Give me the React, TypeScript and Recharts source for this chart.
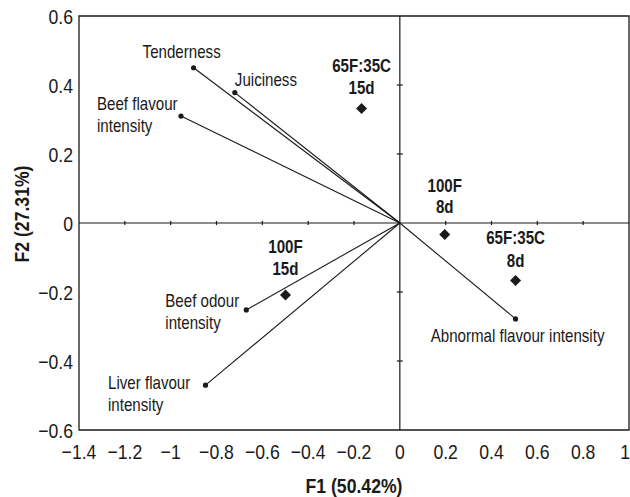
import React from "react";
import { ScatterChart, Scatter, XAxis, YAxis, ReferenceLine, ReferenceArea, Label } from "recharts";

// sensory attributes (vectors) on F1/F2
const attributes = [
  "Tenderness",
  "Juiciness",
  "Beef flavour intensity",
  "Beef odour intensity",
  "Liver flavour intensity",
  "Abnormal flavour intensity",
];
const attrF1 = [-0.9, -0.72, -0.955, -0.67, -0.848, 0.505];
const attrF2 = [0.45, 0.378, 0.31, -0.252, -0.47, -0.278];

// treatments (diamonds)
const samples = ["65F:35C 15d", "100F 8d", "65F:35C 8d", "100F 15d"];
const sampleF1 = [-0.167, 0.196, 0.505, -0.499];
const sampleF2 = [0.332, -0.033, -0.167, -0.209];

const xTicks = [-1.4, -1.2, -1, -0.8, -0.6, -0.4, -0.2, 0, 0.2, 0.4, 0.6, 0.8, 1];
const yTicks = [-0.6, -0.4, -0.2, 0, 0.2, 0.4, 0.6];

const FONT = "'Liberation Sans', Arial, sans-serif";
const INK = "#1a1a1a";
const SQUEEZE = 0.84; // fake a condensed face

const attrData = attributes.map((name, i) => ({ name, x: attrF1[i], y: attrF2[i] }));
const sampleData = samples.map((name, i) => ({ name, x: sampleF1[i], y: sampleF2[i] }));

// label placement (px from the point): first-line baseline dy, start dx, anchor, line breaks
const attrLabels: Record<string, { lines: string[]; dx: number; dy: number; anchor: string }> = {
  "Tenderness": { lines: ["Tenderness"], dx: -51, dy: -10, anchor: "start" },
  "Juiciness": { lines: ["Juiciness"], dx: 0, dy: -6.5, anchor: "start" },
  "Beef flavour intensity": { lines: ["Beef flavour", "intensity"], dx: -84, dy: -6, anchor: "start" },
  "Beef odour intensity": { lines: ["Beef odour", "intensity"], dx: -81, dy: -3.3, anchor: "start" },
  "Liver flavour intensity": { lines: ["Liver flavour", "intensity"], dx: -97.5, dy: 4.3, anchor: "start" },
  "Abnormal flavour intensity": { lines: ["Abnormal flavour intensity"], dx: 2, dy: 23, anchor: "middle" },
};
const sampleLabels: Record<string, { dy1: number; dy2: number }> = {
  "65F:35C 15d": { dy1: -36.6, dy2: -14 },
  "100F 8d": { dy1: -42.6, dy2: -21 },
  "65F:35C 8d": { dy1: -36.7, dy2: -14 },
  "100F 15d": { dy1: -42.5, dy2: -20 },
};

const fmt = (v: number) => (v < 0 ? "\u2212" + Math.abs(v) : String(v));

function NText({ x, y, anchor = "start", size = 18, bold = false, children }: any) {
  return (
    <text transform={`translate(${x},${y}) scale(${SQUEEZE},1)`} textAnchor={anchor}
      fontFamily={FONT} fontSize={size} fontWeight={bold ? "bold" : "normal"} fill={INK}>
      {children}
    </text>
  );
}

const XTick = (props: any) => {
  const { x, y, payload } = props;
  const last = payload.value === 1;
  return (
    <NText x={last ? x + 1 : x} y={y + 15} anchor={last ? "end" : "middle"} size={21}>
      {fmt(payload.value)}
    </NText>
  );
};

const YTick = (props: any) => {
  const { x, y, payload } = props;
  return (
    <NText x={x} y={y + 7.5} anchor="end" size={21}>
      {fmt(payload.value)}
    </NText>
  );
};

const AttrPoint = (props: any) => {
  const { cx, cy, payload } = props;
  const lab = attrLabels[payload.name];
  return (
    <g>
      <circle cx={cx} cy={cy} r={2.6} fill={INK} />
      {lab.lines.map((t, k) => (
        <NText key={k} x={cx + lab.dx} y={cy + lab.dy + k * 22} anchor={lab.anchor}>
          {t}
        </NText>
      ))}
    </g>
  );
};

const SamplePoint = (props: any) => {
  const { cx, cy, payload } = props;
  const lab = sampleLabels[payload.name];
  const [l1, l2] = payload.name.split(" ");
  const h = 5.5;
  return (
    <g>
      <polygon points={`${cx},${cy - h} ${cx + h},${cy} ${cx},${cy + h} ${cx - h},${cy}`} fill={INK} />
      <NText x={cx} y={cy + lab.dy1} anchor="middle" bold>{l1}</NText>
      <NText x={cx} y={cy + lab.dy2} anchor="middle" bold>{l2}</NText>
    </g>
  );
};

export default function App() {
  return (
    <div style={{ position: "absolute", left: 0, top: 0, width: 630, height: 497, background: "#fff" }}>
      <ScatterChart width={630} height={497} margin={{ top: 16, right: 1, bottom: 0, left: 0 }}>
        <XAxis type="number" dataKey="x" domain={[-1.4, 1]} ticks={xTicks}
          axisLine={false} tickLine={false} tickSize={0} tickMargin={14} height={67} interval={0}
          tick={<XTick />} allowDataOverflow>
          <Label
            content={() => (
              <NText x={354} y={493} anchor="middle" size={21} bold>F1 (50.42%)</NText>
            )}
          />
        </XAxis>
        <YAxis type="number" dataKey="y" domain={[-0.6, 0.6]} ticks={yTicks}
          axisLine={false} tickLine={false} tickSize={0} tickMargin={6} width={79} interval={0}
          tick={<YTick />} allowDataOverflow>
          <Label
            content={() => (
              <text transform={`translate(29,214) rotate(-90) scale(${SQUEEZE},1)`} textAnchor="middle"
                fontFamily={FONT} fontSize={21} fontWeight="bold" fill={INK}>
                F2 (27.31%)
              </text>
            )}
          />
        </YAxis>
        <ReferenceArea x1={-1.4} x2={1} y1={-0.6} y2={0.6} fill="none" stroke={INK} strokeWidth={1.3} fillOpacity={0} />
        <ReferenceLine x={0} stroke={INK} strokeWidth={1.2} />
        <ReferenceLine y={0} stroke={INK} strokeWidth={1.2} />
        {xTicks.filter((t) => t !== 0 && t > -1.4 && t < 1).map((t) => (
          <ReferenceLine key={"xt" + t} segment={[{ x: t, y: -0.006 }, { x: t, y: 0.006 }]} stroke={INK} strokeWidth={1.2} />
        ))}
        {yTicks.filter((t) => t !== 0 && t > -0.6 && t < 0.6).map((t) => (
          <ReferenceLine key={"yt" + t} segment={[{ x: -0.013, y: t }, { x: 0.013, y: t }]} stroke={INK} strokeWidth={1.2} />
        ))}
        {attrData.map((d) => (
          <ReferenceLine key={"v" + d.name} segment={[{ x: 0, y: 0 }, { x: d.x, y: d.y }]} stroke={INK} strokeWidth={1.1} />
        ))}
        <Scatter data={attrData} shape={<AttrPoint />} isAnimationActive={false} />
        <Scatter data={sampleData} shape={<SamplePoint />} isAnimationActive={false} />
      </ScatterChart>
    </div>
  );
}
